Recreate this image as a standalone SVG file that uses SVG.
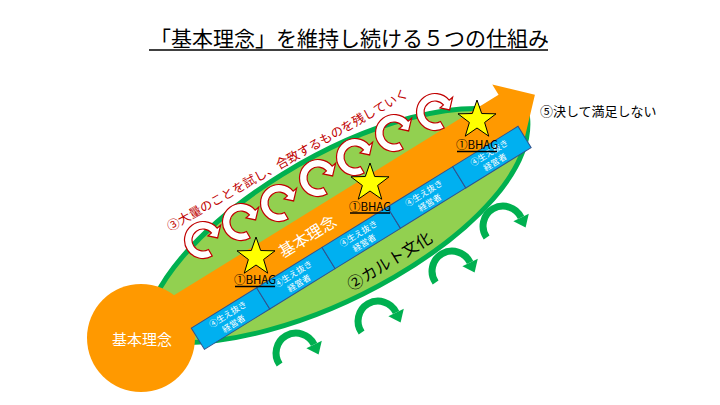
<svg xmlns="http://www.w3.org/2000/svg" width="720" height="405" viewBox="0 0 720 405">
<defs>
<style>
.jp{font-family:"Noto Sans CJK JP","Noto Sans",sans-serif}
.ca{fill:#fff;stroke:#C00000;stroke-width:1.2}
.star{fill:#FFFF00;stroke:#000;stroke-width:1}
.seg{fill:#00B0F0;stroke:#2F528F;stroke-width:1}
.segt{fill:#fff;font-size:8.5px;text-anchor:middle}
.garc{fill:none;stroke:#00B050;stroke-width:7}
.gh{fill:#00B050}
.bhag{font-size:11.5px;text-anchor:middle;fill:#000}
.ul{stroke:#000;stroke-width:1.6}
</style>
<path id="carrow" d="M9.25,16.02 A18.5,18.5 0 1 1 14.17,-11.89 L17.62,-14.78 L14.61,-2.05 L4.98,-4.18 L8.43,-7.07 A11,11 0 1 0 5.5,9.53 Z"/>
<polygon id="starShape" points="0,-20 4.7,-6.47 19.02,-6.18 7.61,2.47 11.76,16.18 0,8 -11.76,16.18 -7.61,2.47 -19.02,-6.18 -4.7,-6.47"/>
<g id="garrow"><path class="garc" d="M-16.4,11.5 A20,20 0 1 1 18.1,-8.5"/><polygon class="gh" points="25.8,-12.2 22.6,1.5 10.4,-4.8"/></g>
</defs>
<rect width="720" height="405" fill="#fff"/>
<g id="title">
<text class="jp" x="150" y="45.5" font-size="21" fill="#000">「基本理念」を維持し続ける５つの仕組み</text>
<line class="ul" x1="149" y1="50" x2="548" y2="50" stroke-width="2"/>
</g>
<g id="leaf" transform="translate(141,338) rotate(-31.7)">
<path d="M5,5 C40,-85 360,-95 445,15 C400,110 110,100 5,5 Z" fill="#92D050" stroke="#00B050" stroke-width="5"/>
</g>
<g id="connectors">
<use href="#garrow" x="296" y="353"/>
<use href="#garrow" x="378" y="321"/>
<use href="#garrow" x="452" y="271"/>
<use href="#garrow" x="503" y="226"/>
</g>
<g id="arrow" transform="translate(141,338) rotate(-31.7)">
<polygon points="0,-19 432,-19 432,-31 463,0 432,31 432,19 0,19" fill="#FF9900"/>
</g>
<g id="circle">
<circle cx="141" cy="338" r="54" fill="#FF9900"/>
<text class="jp" x="142" y="338" font-size="15" fill="#fff" text-anchor="middle" dominant-baseline="central">基本理念</text>
</g>
<g id="band" transform="translate(141,338) rotate(-31.7)">
<rect class="seg" x="48" y="18" width="76.8" height="25"/>
<rect class="seg" x="124.8" y="18" width="76.8" height="25"/>
<rect class="seg" x="201.6" y="18" width="76.8" height="25"/>
<rect class="seg" x="278.4" y="18" width="76.8" height="25"/>
<rect class="seg" x="355.2" y="18" width="76.8" height="25"/>
<g class="jp segt">
<text x="86.4" y="28.5">④生え抜き</text><text x="86.4" y="39.5">経営者</text>
<text x="163.2" y="28.5">④生え抜き</text><text x="163.2" y="39.5">経営者</text>
<text x="240" y="28.5">④生え抜き</text><text x="240" y="39.5">経営者</text>
<text x="316.8" y="28.5">④生え抜き</text><text x="316.8" y="39.5">経営者</text>
<text x="393.6" y="28.5">④生え抜き</text><text x="393.6" y="39.5">経営者</text>
</g>
<text class="jp" x="195" y="0" font-size="16" fill="#fff" text-anchor="middle" dominant-baseline="central">基本理念</text>
<text class="jp" x="252" y="64" font-size="16" fill="#000" text-anchor="middle" dominant-baseline="central">②カルト文化</text>
</g>
<g id="trials">
<use href="#carrow" class="ca" x="203" y="240"/>
<use href="#carrow" class="ca" x="241" y="222"/>
<use href="#carrow" class="ca" x="279" y="203"/>
<use href="#carrow" class="ca" x="318" y="178"/>
<use href="#carrow" class="ca" x="355" y="157"/>
<use href="#carrow" class="ca" x="394" y="133"/>
<use href="#carrow" class="ca" x="435" y="112"/>
<text class="jp" transform="translate(287,159) rotate(-29.5)" font-size="12.5" fill="#C00000" text-anchor="middle" dominant-baseline="central">③大量のことを試し、合致するものを残していく</text>
</g>
<g id="bhag1">
<use href="#starShape" class="star" x="256" y="257"/>
<text class="jp bhag" x="255" y="284">①BHAG</text>
<line class="ul" x1="235" y1="286.5" x2="275" y2="286.5"/>
</g>
<g id="bhag2">
<use href="#starShape" class="star" x="370" y="183"/>
<text class="jp bhag" x="370" y="210.5">①BHAG</text>
<line class="ul" x1="350" y1="213" x2="390" y2="213"/>
</g>
<g id="bhag3">
<use href="#starShape" class="star" x="477" y="120"/>
<text class="jp bhag" x="477" y="149">①BHAG</text>
<line class="ul" x1="457" y1="151.5" x2="497" y2="151.5"/>
</g>
<g id="never">
<text class="jp" x="540" y="116" font-size="13" fill="#000">⑤決して満足しない</text>
</g>
</svg>
